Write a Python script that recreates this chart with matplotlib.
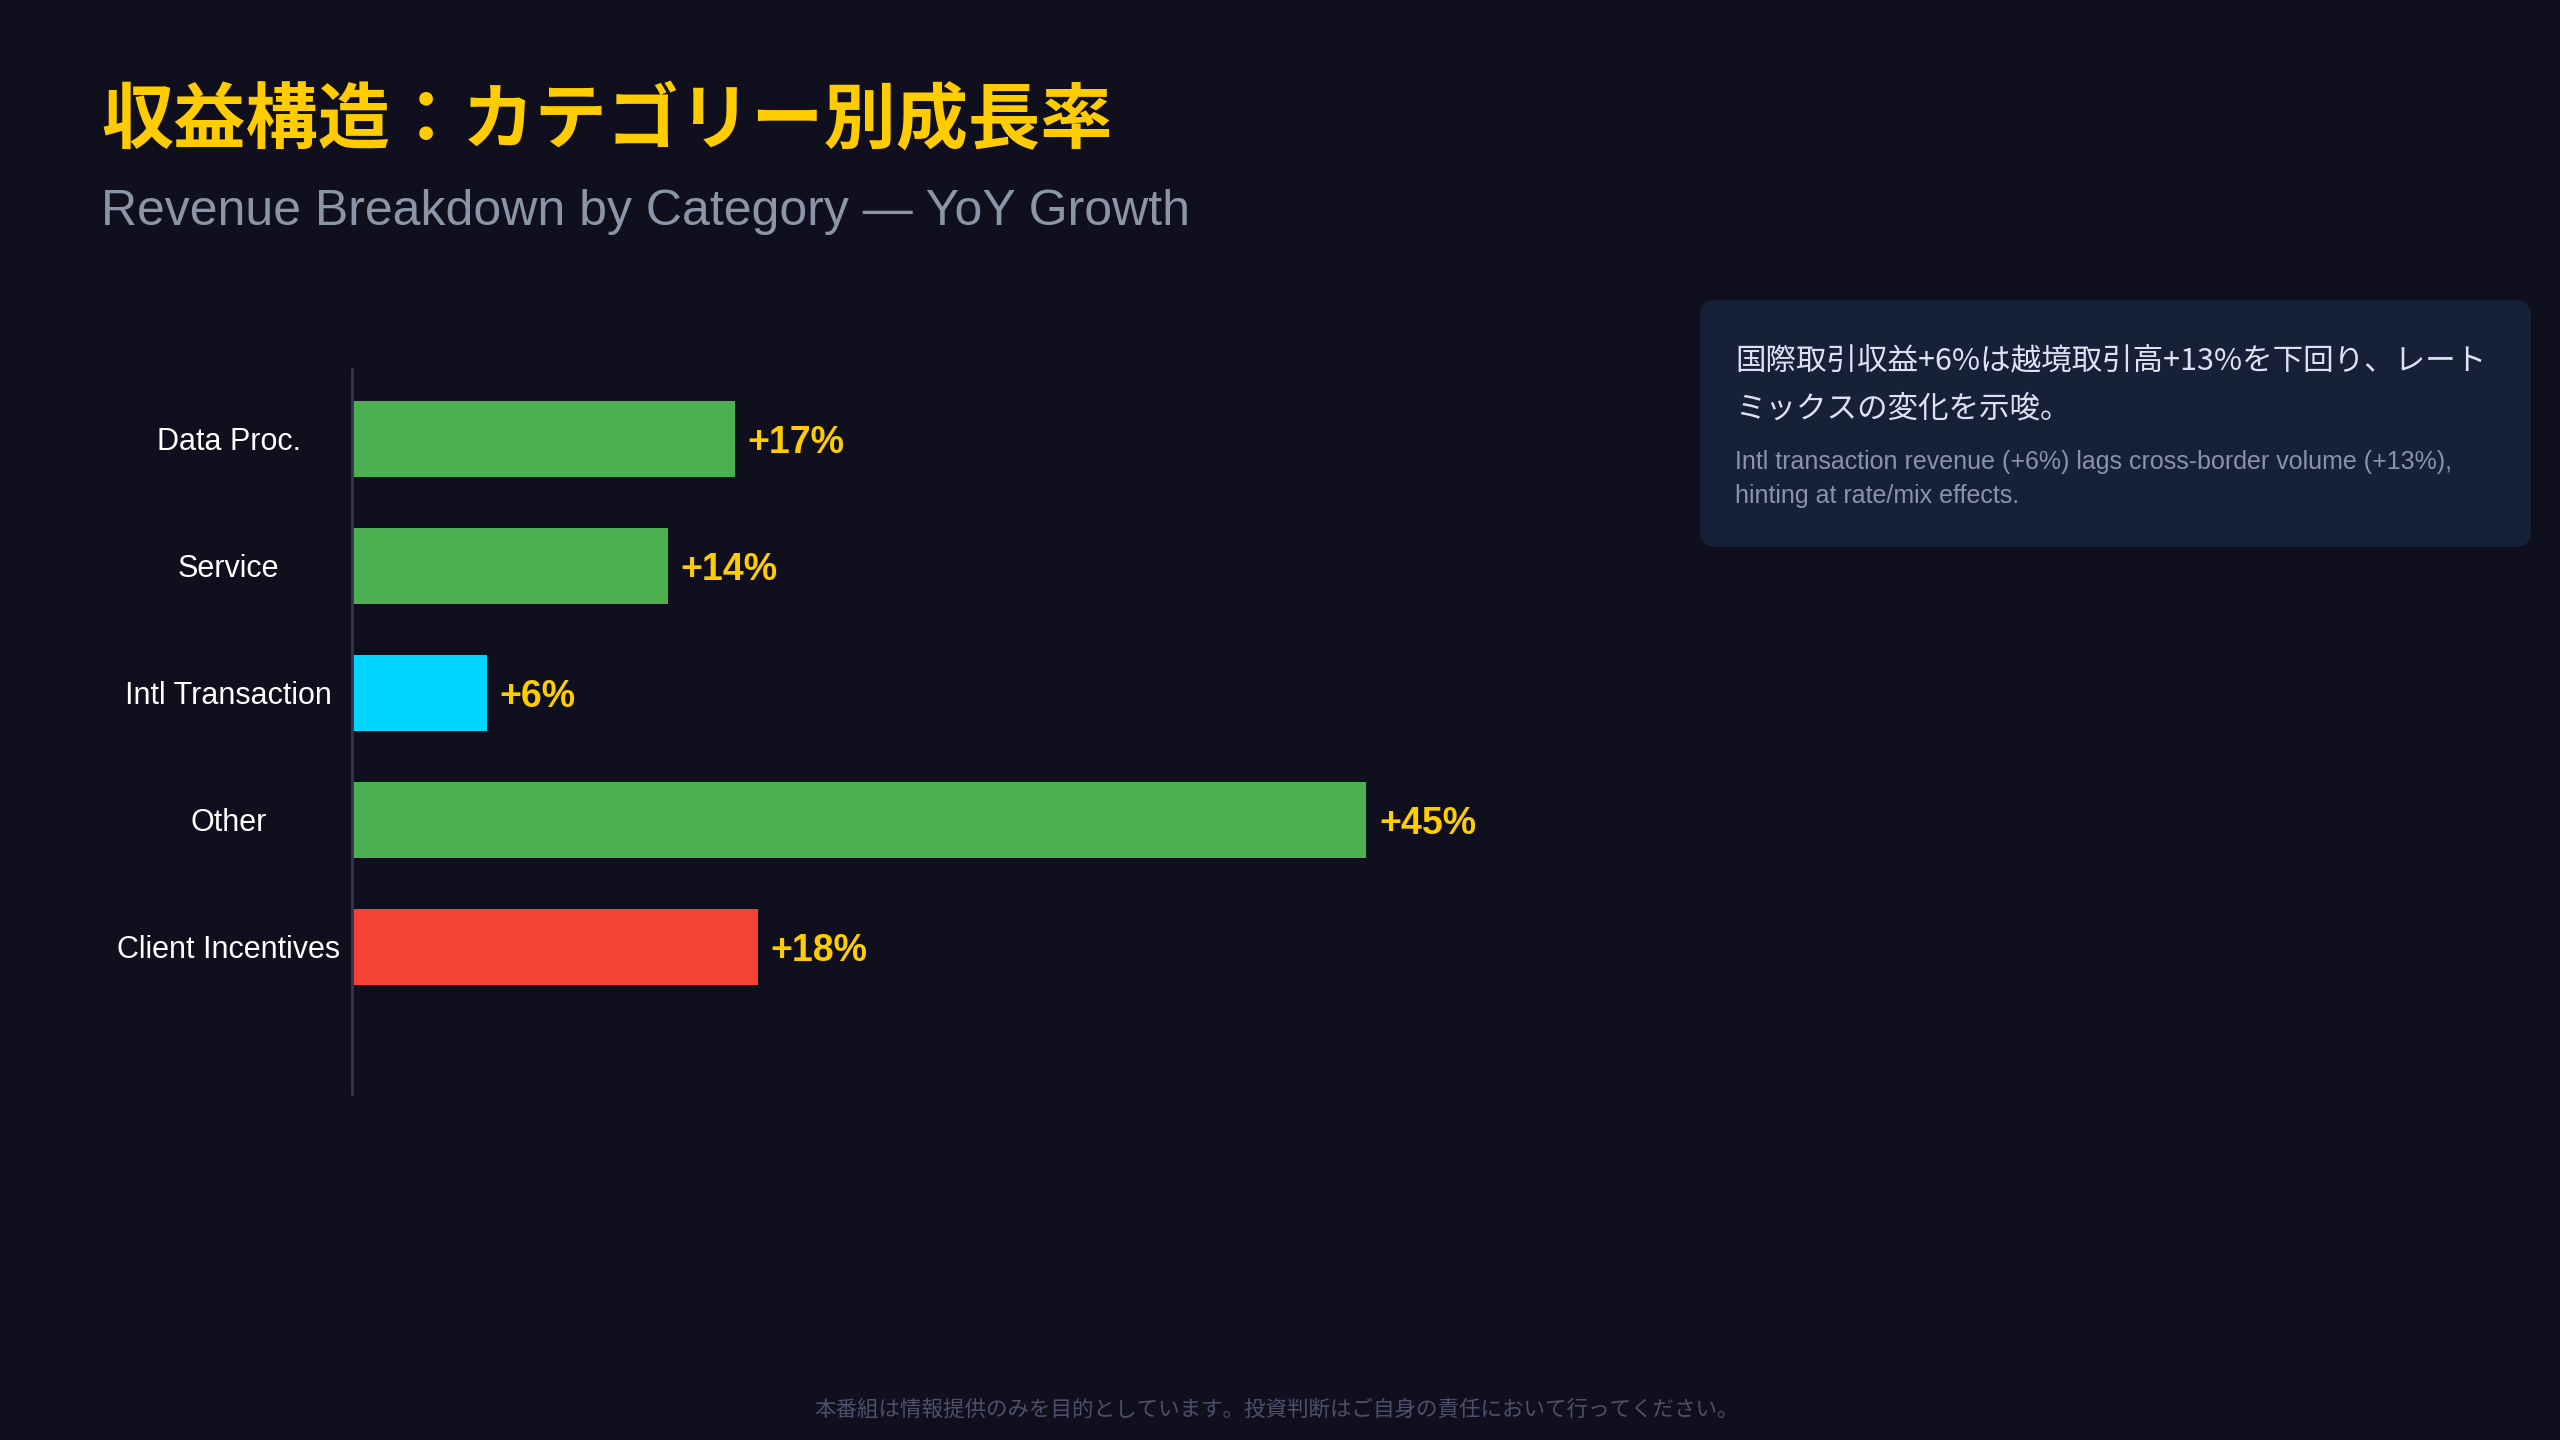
import matplotlib
matplotlib.use("Agg")
import matplotlib.pyplot as plt
import matplotlib.transforms as mtransforms
from matplotlib.patches import FancyBboxPatch

# --- データ ---
categories = ["Data Proc.", "Service", "Intl Transaction", "Other", "Client Incentives"]
growth = [17, 14, 6, 45, 18]
bar_colors = ["#4caf50", "#4caf50", "#00d4ff", "#4caf50", "#f44336"]

title_jp = "収益構造：カテゴリー別成長率"
subtitle_en = "Revenue Breakdown by Category — YoY Growth"
note_jp = ["国際取引収益+6%は越境取引高+13%を下回り、レート", "ミックスの変化を示唆。"]
note_en = ["Intl transaction revenue (+6%) lags cross-border volume (+13%),",
           "hinting at rate/mix effects."]
footer = "本番組は情報提供のみを目的としています。投資判断はご自身の責任において行ってください。"

bg = "#0f0f1d"
jp = ["Noto Sans CJK JP", "DejaVu Sans"]
lat = ["Liberation Sans", "DejaVu Sans"]

fig = plt.figure(figsize=(25.6, 14.4), dpi=100, facecolor=bg)

# タイトル
fig.text(0.0395, 1 - 121 / 1440, title_jp, color="#ffcc00", fontsize=52, fontweight="bold",
         family=jp, va="center", ha="left")
fig.text(0.0395, 0.8437, subtitle_en, color="#8a96a8", fontsize=36,
         family=lat, va="baseline", ha="left")

# 棒グラフ
ax = fig.add_axes([0.1375, 0.2403, 0.4755, 0.5035])
ax.set_facecolor(bg)
y = list(range(len(categories)))
ax.barh(y, growth, height=0.6, color=bar_colors, edgecolor="none")
ax.set_xlim(0, 54)
ax.set_ylim(5.16, -0.55)
for s in ["top", "right", "bottom"]:
    ax.spines[s].set_visible(False)
ax.spines["left"].set_color("#34344f")
ax.spines["left"].set_linewidth(2)
ax.set_xticks([])
ax.set_yticks([])

trans = mtransforms.blended_transform_factory(ax.transAxes, ax.transData)
for i, (cat, v) in enumerate(zip(categories, growth)):
    ax.text(-0.1014, i, cat, transform=trans, ha="center", va="center_baseline",
            color="white", fontsize=22, family=lat)
    ax.annotate(f"+{v}%", xy=(v, i), xytext=(9, 0), textcoords="offset points",
                ha="left", va="center_baseline", color="#ffcc00", fontsize=27,
                fontweight="bold", family=lat)

# 注記カード
card = FancyBboxPatch((1700, 893), 831, 247,
                      boxstyle="round,pad=0,rounding_size=16",
                      transform=mtransforms.IdentityTransform(),
                      facecolor="#172039", edgecolor="none")
fig.add_artist(card)
fig.text(1735 / 2560, 1 - 362 / 1440, note_jp[0], color="#dde1f0", fontsize=22,
         family=jp, va="center", ha="left")
fig.text(1735 / 2560, 1 - 409 / 1440, note_jp[1], color="#dde1f0", fontsize=22,
         family=jp, va="center", ha="left")
fig.text(1735 / 2560, 1 - 462 / 1440, note_en[0], color="#8a93a8", fontsize=18,
         family=lat, va="center", ha="left")
fig.text(1735 / 2560, 1 - 496 / 1440, note_en[1], color="#8a93a8", fontsize=18,
         family=lat, va="center", ha="left")

# フッター
fig.text(0.4985, 1 - 1410 / 1440, footer, color="#4f4f6b", fontsize=15.5,
         family=jp, va="center", ha="center")

fig.savefig("out.png", dpi=100, facecolor=bg)
